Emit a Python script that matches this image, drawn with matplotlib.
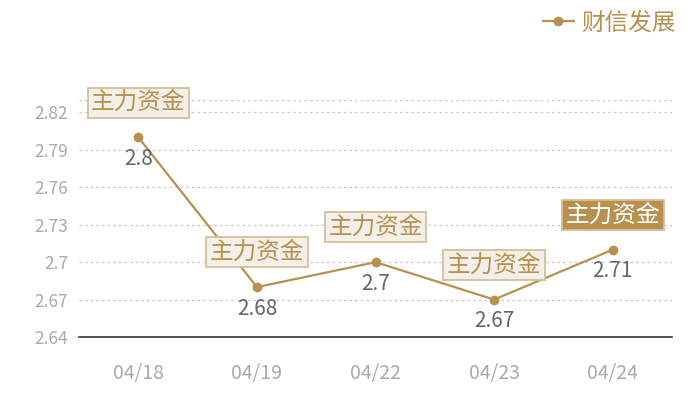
import matplotlib
matplotlib.use("Agg")
import matplotlib.pyplot as plt

plt.rcParams['font.family'] = ['Noto Sans CJK SC', 'DejaVu Sans']

# data
dates = ["04/18", "04/19", "04/22", "04/23", "04/24"]
values = [2.8, 2.68, 2.7, 2.67, 2.71]
value_labels = ["2.8", "2.68", "2.7", "2.67", "2.71"]
series_name = "财信发展"
tag_text = "主力资金"
yticks = [2.64, 2.67, 2.70, 2.73, 2.76, 2.79, 2.82]
ytick_labels = ["2.64", "2.67", "2.7", "2.73", "2.76", "2.79", "2.82"]

gold = "#b8914f"

fig = plt.figure(figsize=(7, 4), dpi=100)
ax = fig.add_axes([0.113, 0.1575, 0.847, 0.5925])

x = list(range(len(dates)))
ax.plot(x, values, color=gold, lw=1.6, marker="o", ms=6, label=series_name, zorder=3)

ax.set_xlim(-0.5, len(dates) - 0.5)
ax.set_ylim(2.64, 2.83)
ax.set_xticks(x)
ax.set_xticklabels(dates)
ax.set_yticks(yticks)
ax.set_yticklabels(ytick_labels)

# grid
for yv in yticks[1:] + [2.83]:
    ax.axhline(yv, color="#c8c8c8", lw=0.9, ls=(0, (2, 2.5)), zorder=0)

for s in ["top", "right", "left"]:
    ax.spines[s].set_visible(False)
ax.spines["bottom"].set_color("#333333")
ax.spines["bottom"].set_linewidth(1.2)
ax.tick_params(axis="both", length=0, colors="#aaaaaa")
ax.tick_params(axis="x", pad=19, labelsize=14)
ax.tick_params(axis="y", pad=8, labelsize=12.5)

# value labels and tag boxes
for i, v in enumerate(values):
    ax.annotate(value_labels[i], (i, v), xytext=(0, -15.5), textcoords="offset points",
                ha="center", va="center", fontsize=15, color="#666666")
    last = i == len(values) - 1
    ax.annotate(tag_text, (i, v), xytext=(0, 25), textcoords="offset points",
                ha="center", va="center", fontsize=17,
                color="white" if last else gold,
                bbox=dict(boxstyle="square,pad=0.15",
                          fc=gold if last else "#f3efe9",
                          ec="#d6bf98", lw=1.3))

fig.legend(loc="upper right", bbox_to_anchor=(0.995, 1.025), frameon=False,
           fontsize=17, labelcolor=gold, handlelength=1.3, handletextpad=0.3)

fig.savefig("out.png", dpi=100)
